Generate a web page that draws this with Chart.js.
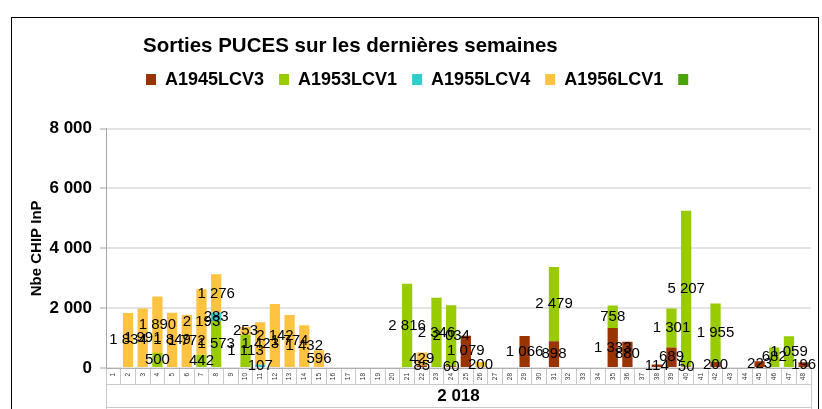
<!DOCTYPE html>
<html>
<head>
<meta charset="utf-8">
<script src="https://cdn.jsdelivr.net/npm/chart.js@4.4.1/dist/chart.umd.min.js"></script>
<style>
  html, body { margin: 0; padding: 0; background: #fff; }
  #wrap { position: relative; width: 822px; height: 409px; overflow: hidden; }
  #frame { position: absolute; left: 11px; top: 17px; width: 806px; height: 420px; border: 1px solid #000; pointer-events: none; }
</style>
</head>
<body>
<div id="wrap">
  <canvas id="chart" width="822" height="409"></canvas>
  <div id="frame"></div>
</div>
<script>
// semaines 2018
const weeks = ["1","2","3","4","5","6","7","8","9","10","11","12",
               "13","14","15","16","17","18","19","20","21","22","23","24",
               "25","26","27","28","29","30","31","32","33","34","35","36",
               "37","38","39","40","41","42","43","44","45","46","47","48"];
const yearLabel = ["2 018"];

const a1945LCV3 = [null, null, null, null, null, null, null, null, null, null, null, null,
                   null, null, null, null, null, null, null, null, null, 85, null, 60,
                   1079, null, null, null, 1066, null, 898, null, null, null, 1333, 880,
                   null, 114, 689, 50, null, 200, null, null, 223, null, null, 196];
const a1953LCV1 = [null, null, null, 500, null, null, 442, 1573, null, 1113, null, null,
                   null, null, null, null, null, null, null, null, 2816, null, 2346, 2034,
                   null, null, null, null, null, null, 2479, null, null, null, 758, null,
                   null, null, 1301, 5207, null, 1955, null, null, null, 682, 1059, null];
const a1955LCV4 = [null, null, null, null, null, null, null, 283, null, null, 107, null,
                   null, null, null, null, null, null, null, null, null, null, null, null,
                   null, null, null, null, null, null, null, null, null, null, null, null,
                   null, null, null, null, null, null, null, null, null, null, null, null];
const a1956LCV1 = [null, 1834, 1991, 1890, 1849, 1772, 2193, 1276, null, 253, 1423, 2142,
                   1774, 1432, 596, null, null, null, null, null, null, 429, null, null,
                   null, 200, null, null, null, null, null, null, null, null, null, null,
                   null, null, null, null, null, null, null, null, null, null, null, null];
const sansNom = [null, null, null, null, null, null, null, null, null, null, null, null,
                 null, null, null, null, null, null, null, null, null, null, null, null,
                 null, null, null, null, null, null, null, null, null, null, null, null,
                 null, null, null, null, null, null, null, null, null, null, null, null];

const yTicks = [0, 2000, 4000, 6000, 8000];

const fmt = v => String(v).replace(/\B(?=(\d{3})+(?!\d))/g, " ");

Chart.defaults.font.family = '"Liberation Sans", Arial, sans-serif';
Chart.defaults.color = "#000";

// étiquettes de valeur au milieu de chaque segment
const valueLabels = {
  id: "valueLabels",
  afterDatasetsDraw(chart) {
    const ctx = chart.ctx;
    ctx.save();
    ctx.font = '15px "Liberation Sans", Arial, sans-serif';
    ctx.fillStyle = "#000";
    ctx.textAlign = "center";
    ctx.textBaseline = "middle";
    chart.data.datasets.forEach((ds, i) => {
      chart.getDatasetMeta(i).data.forEach((bar, j) => {
        const v = ds.data[j];
        if (v == null) return;
        const p = bar.getProps(["x", "y", "base"], true);
        ctx.fillText(fmt(v), p.x, (p.y + p.base) / 2);
      });
    });
    ctx.restore();
  }
};

// titre et légende décalés à gauche comme dans Excel
const header = {
  id: "header",
  beforeInit(chart) {
    const fit = chart.legend.fit;
    chart.legend.fit = function () {
      fit.call(this);
      this.height += 27;
    };
  },
  afterLayout(chart) {
    chart.titleBlock.left += 143;
    chart.legend.left += 131;
    chart.legend.top -= 3;
  }
};

// cadre autour de la ligne "2 018"
const yearBox = {
  id: "yearBox",
  afterDraw(chart) {
    const s = chart.scales.x2;
    const ctx = chart.ctx;
    ctx.save();
    ctx.strokeStyle = "#c8c8c8";
    ctx.lineWidth = 1;
    ctx.beginPath();
    ctx.moveTo(s.left, s.bottom - 1.5);
    ctx.lineTo(s.right, s.bottom - 1.5);
    ctx.stroke();
    ctx.restore();
  }
};

new Chart(document.getElementById("chart"), {
  type: "bar",
  data: {
    labels: weeks,
    datasets: [
      { label: "A1945LCV3", data: a1945LCV3, backgroundColor: "#993300" },
      { label: "A1953LCV1", data: a1953LCV1, backgroundColor: "#99cc00" },
      { label: "A1955LCV4", data: a1955LCV4, backgroundColor: "#33cccc" },
      { label: "A1956LCV1", data: a1956LCV1, backgroundColor: "#ffc342" },
      { label: "", data: sansNom, backgroundColor: "#4ba30a" }
    ]
  },
  options: {
    responsive: false,
    animation: false,
    categoryPercentage: 0.7,
    barPercentage: 1,
    layout: { padding: { top: 34, left: 0, right: 11, bottom: 0 } },
    plugins: {
      title: {
        display: true,
        text: "Sorties PUCES sur les dernières semaines",
        align: "start",
        font: { size: 20.5, weight: "bold" },
        padding: { top: 0, bottom: 0 }
      },
      legend: {
        align: "start",
        labels: {
          boxWidth: 10,
          boxHeight: 11,
          padding: 15,
          font: { size: 18, weight: "bold" }
        }
      },
      tooltip: { enabled: false }
    },
    scales: {
      x: {
        stacked: true,
        grid: { offset: true, drawOnChartArea: false, tickLength: 16, color: "#c8c8c8" },
        border: { color: "#b0b0b0" },
        ticks: { autoSkip: false, minRotation: 90, maxRotation: 90, padding: -11, color: "#333", font: { size: 6.5 } },
        afterFit(scale) { scale.height = 16; }
      },
      x2: {
        type: "category",
        labels: yearLabel,
        position: "bottom",
        offset: true,
        grid: { offset: true, drawOnChartArea: false, tickLength: 25, color: "#c8c8c8" },
        border: { color: "#c8c8c8" },
        ticks: { padding: -23, font: { size: 17, weight: "bold" } },
        afterFit(scale) { scale.height = 25; }
      },
      y: {
        stacked: true,
        min: 0,
        max: 8000,
        afterBuildTicks(scale) { scale.ticks = yTicks.map(v => ({ value: v })); },
        ticks: { padding: 8, callback: v => fmt(v), font: { size: 17, weight: "bold" } },
        grid: { color: "#e3e3e3", lineWidth: 2, tickLength: 6, tickColor: "#a6a6a6", tickWidth: 1 },
        border: { color: "#a6a6a6" },
        title: {
          display: true,
          text: "Nbe CHIP InP",
          font: { size: 15, weight: "bold" },
          padding: { top: 28, bottom: 0 }
        },
        afterFit(scale) { scale.width = 106; }
      }
    }
  },
  plugins: [valueLabels, header, yearBox]
});
</script>
</body>
</html>
